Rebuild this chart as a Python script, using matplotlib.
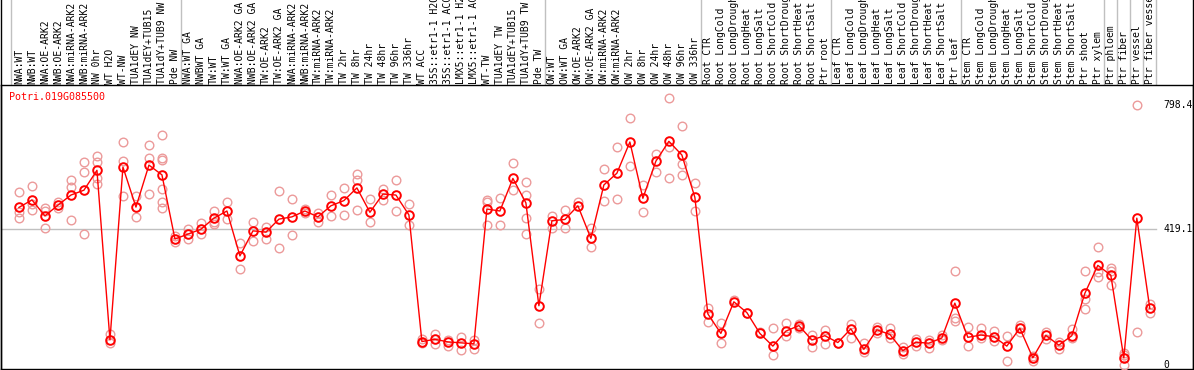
import matplotlib
matplotlib.use("Agg")
import matplotlib.pyplot as plt
from matplotlib.transforms import blended_transform_factory
from matplotlib.lines import Line2D

labels = [
    "NWA:WT", "NWB:WT", "NWA:OE-ARK2", "NWB:OE-ARK2", "NWA:miRNA-ARK2", "NWB:miRNA-ARK2",
    "NW 0hr", "WT H2O", "WT-NW", "TUA1dEY NW", "TUA1dEY+TUB15", "TUA1dY+TUB9 NW", "Pde NW",
    "NWA:WT GA", "NWBWT GA", "TW:WT", "TW:WT GA", "NWA:OE-ARK2 GA", "NWB:OE-ARK2 GA",
    "TW:OE-ARK2", "TW:OE-ARK2 GA", "NWA:miRNA-ARK2", "NWB:miRNA-ARK2", "TW:miRNA-ARK2",
    "TW:miRNA-ARK2", "TW 2hr", "TW 8hr", "TW 24hr", "TW 48hr", "TW 96hr", "TW 336hr",
    "WT ACC", "35S::etr1-1 H2O", "35S::etr1-1 ACC", "LMX5::etr1-1 H2O", "LMX5::etr1-1 ACC",
    "WT-TW", "TUA1dEY TW", "TUA1dEY+TUB15", "TUA1dY+TUB9 TW", "Pde TW",
    "OW:WT", "OW:WT GA", "OW:OE-ARK2", "OW:OE-ARK2 GA", "OW:miRNA-ARK2", "OW:miRNA-ARK2",
    "OW 2hr", "OW 8hr", "OW 24hr", "OW 48hr", "OW 96hr", "OW 336hr",
    "Root CTR", "Root LongCold", "Root LongDrought", "Root LongHeat", "Root LongSalt",
    "Root ShortCold", "Root ShortDrought", "Root ShortHeat", "Root ShortSalt", "Ptr root",
    "Leaf CTR", "Leaf LongCold", "Leaf LongDrought", "Leaf LongHeat", "Leaf LongSalt",
    "Leaf ShortCold", "Leaf ShortDrought", "Leaf ShortHeat", "Leaf ShortSalt", "Ptr leaf",
    "Stem CTR", "Stem LongCold", "Stem LongDrought", "Stem LongHeat", "Stem LongSalt",
    "Stem ShortCold", "Stem ShortDrought", "Stem ShortHeat", "Stem ShortSalt",
    "Ptr shoot", "Ptr xylem", "Ptr phloem", "Ptr fiber", "Ptr vessel", "Ptr fiber vessel",
]

means = [
    484, 507, 458, 491, 522, 537, 598, 77, 608, 485, 614, 584, 387,
    402, 417, 451, 473, 335, 412, 408, 448, 455, 473, 455, 489, 505, 544, 469, 525, 522, 461,
    72, 79, 71, 68, 65,
    479, 473, 573, 498, 182,
    443, 447, 489, 389, 553, 589, 685, 512, 626, 687, 645, 515,
    157, 97, 194, 161, 97, 58, 104, 121, 77, 90,
    69, 111, 48, 108, 94, 44, 70, 67, 83, 190,
    85, 92, 87, 58, 113, 22, 91, 61, 90,
    220, 306, 276, 22, 451, 174,
]

reps = [
    [532, 471, 451], [550, 476, 495], [481, 420, 472], [502, 481], [568, 548, 445],
    [623, 592, 402], [642, 623, 575, 555], [94, 67], [684, 627, 519], [520, 455],
    [675, 635, 525], [705, 635, 630, 540, 500, 481], [397, 379],
    [417, 387], [437, 401], [473, 438, 432], [502, 447], [374, 295], [440, 381],
    [425, 387], [534, 360], [510, 399], [479, 467], [466, 440], [522, 458],
    [545, 461], [588, 568, 476], [510, 440], [541, 507], [568, 473], [494, 430],
    [80, 67], [96, 65], [77, 59], [85, 46], [77, 49],
    [507, 500, 430], [512, 430], [619, 537], [563, 522, 451, 401], [233, 128],
    [459, 420], [476, 420], [500], [420, 362], [602, 504], [670, 510],
    [759, 611], [553, 470], [648, 592], [819, 670, 573], [733, 616, 584], [558, 473],
    [174, 131], [128, 67], [200], [161], [102], [113, 31], [128, 89], [125, 113],
    [92, 54], [108, 64],
    [69], [126, 82], [67, 41], [118, 97], [113, 82], [56, 34], [80, 59], [77, 53],
    [92, 77], [290, 143, 136],
    [116, 59], [113, 82], [104, 74], [89, 12], [123, 102], [28, 13], [102, 79],
    [72, 48], [110, 82],
    [290, 202, 171], [362, 287, 271], [297, 290, 246], [38, 31, 0], [798, 100], [187, 159],
]

separators = [-0.62, 12.45, 40.45, 52.45, 62.45, 72.45, 83.45, 84.45, 85.45, 86.45, 87.45]
scale_ticks = [798.4, 419.1, 0]
gene = "Potri.019G085500"

W, H = 1194, 370
fig = plt.figure(figsize=(W / 100, H / 100), dpi=100)
ax = fig.add_axes([0.5 / W, 1 / H, 1192.2 / W, 284 / H])

n = len(labels)
xs = list(range(n))
mono = "DejaVu Sans Mono"

# replicate points
for i, r in enumerate(reps):
    ax.plot([i] * len(r), r, linestyle="none", marker="o", markersize=6.2,
            markerfacecolor="none", markeredgecolor="#EC9A9A", markeredgewidth=1.0, zorder=3)

# mean line + points
ax.plot(xs, means, color="#FF0000", linewidth=1.0, marker="o", markersize=6.2,
        markerfacecolor="none", markeredgecolor="#FF0000", markeredgewidth=1.4, zorder=4)

ax.set_xlim(-1.42, 90.3)
ax.set_ylim(-12.3, 860)
ax.set_xticks([])
ax.set_yticks([])
for s in ax.spines.values():
    s.set_linewidth(1.0)
    s.set_color("black")

# horizontal gray reference line
ax.plot([-1.42, 87.45], [419.1, 419.1], color="#C0C0C0", linewidth=1.0, zorder=1)

# vertical separators spanning labels and plot
blend = blended_transform_factory(ax.transData, fig.transFigure)
for sx in separators:
    fig.add_artist(Line2D([sx, sx], [1 / H, 1.0], transform=blend, color="#C0C0C0",
                          linewidth=1.0, zorder=0))

# outer borders in label area
fig.add_artist(Line2D([0.7 / W, 0.7 / W], [0, 1], transform=fig.transFigure,
                      color="black", linewidth=1.0))
fig.add_artist(Line2D([1192.5 / W, 1192.5 / W], [0, 1], transform=fig.transFigure,
                      color="black", linewidth=1.0))

# column labels
for i, lab in enumerate(labels):
    ax.text(i, (H - 83.5) / H, lab, transform=blend, rotation=90, ha="center", va="bottom",
            fontsize=7, family=mono, color="black", clip_on=False)

# scale labels on the right
for v in scale_ticks:
    ax.text(1163 / W, v, f"{v:g}" if v == 0 else f"{v}", transform=blended_transform_factory(fig.transFigure, ax.transData),
            ha="left", va="center", fontsize=7, family=mono, color="black")

# gene title
ax.text(9 / W, (H - 97) / H, gene, transform=fig.transFigure, ha="left", va="center",
        fontsize=7.2, family=mono, color="#FF0000")

fig.savefig("out.png", dpi=100)
